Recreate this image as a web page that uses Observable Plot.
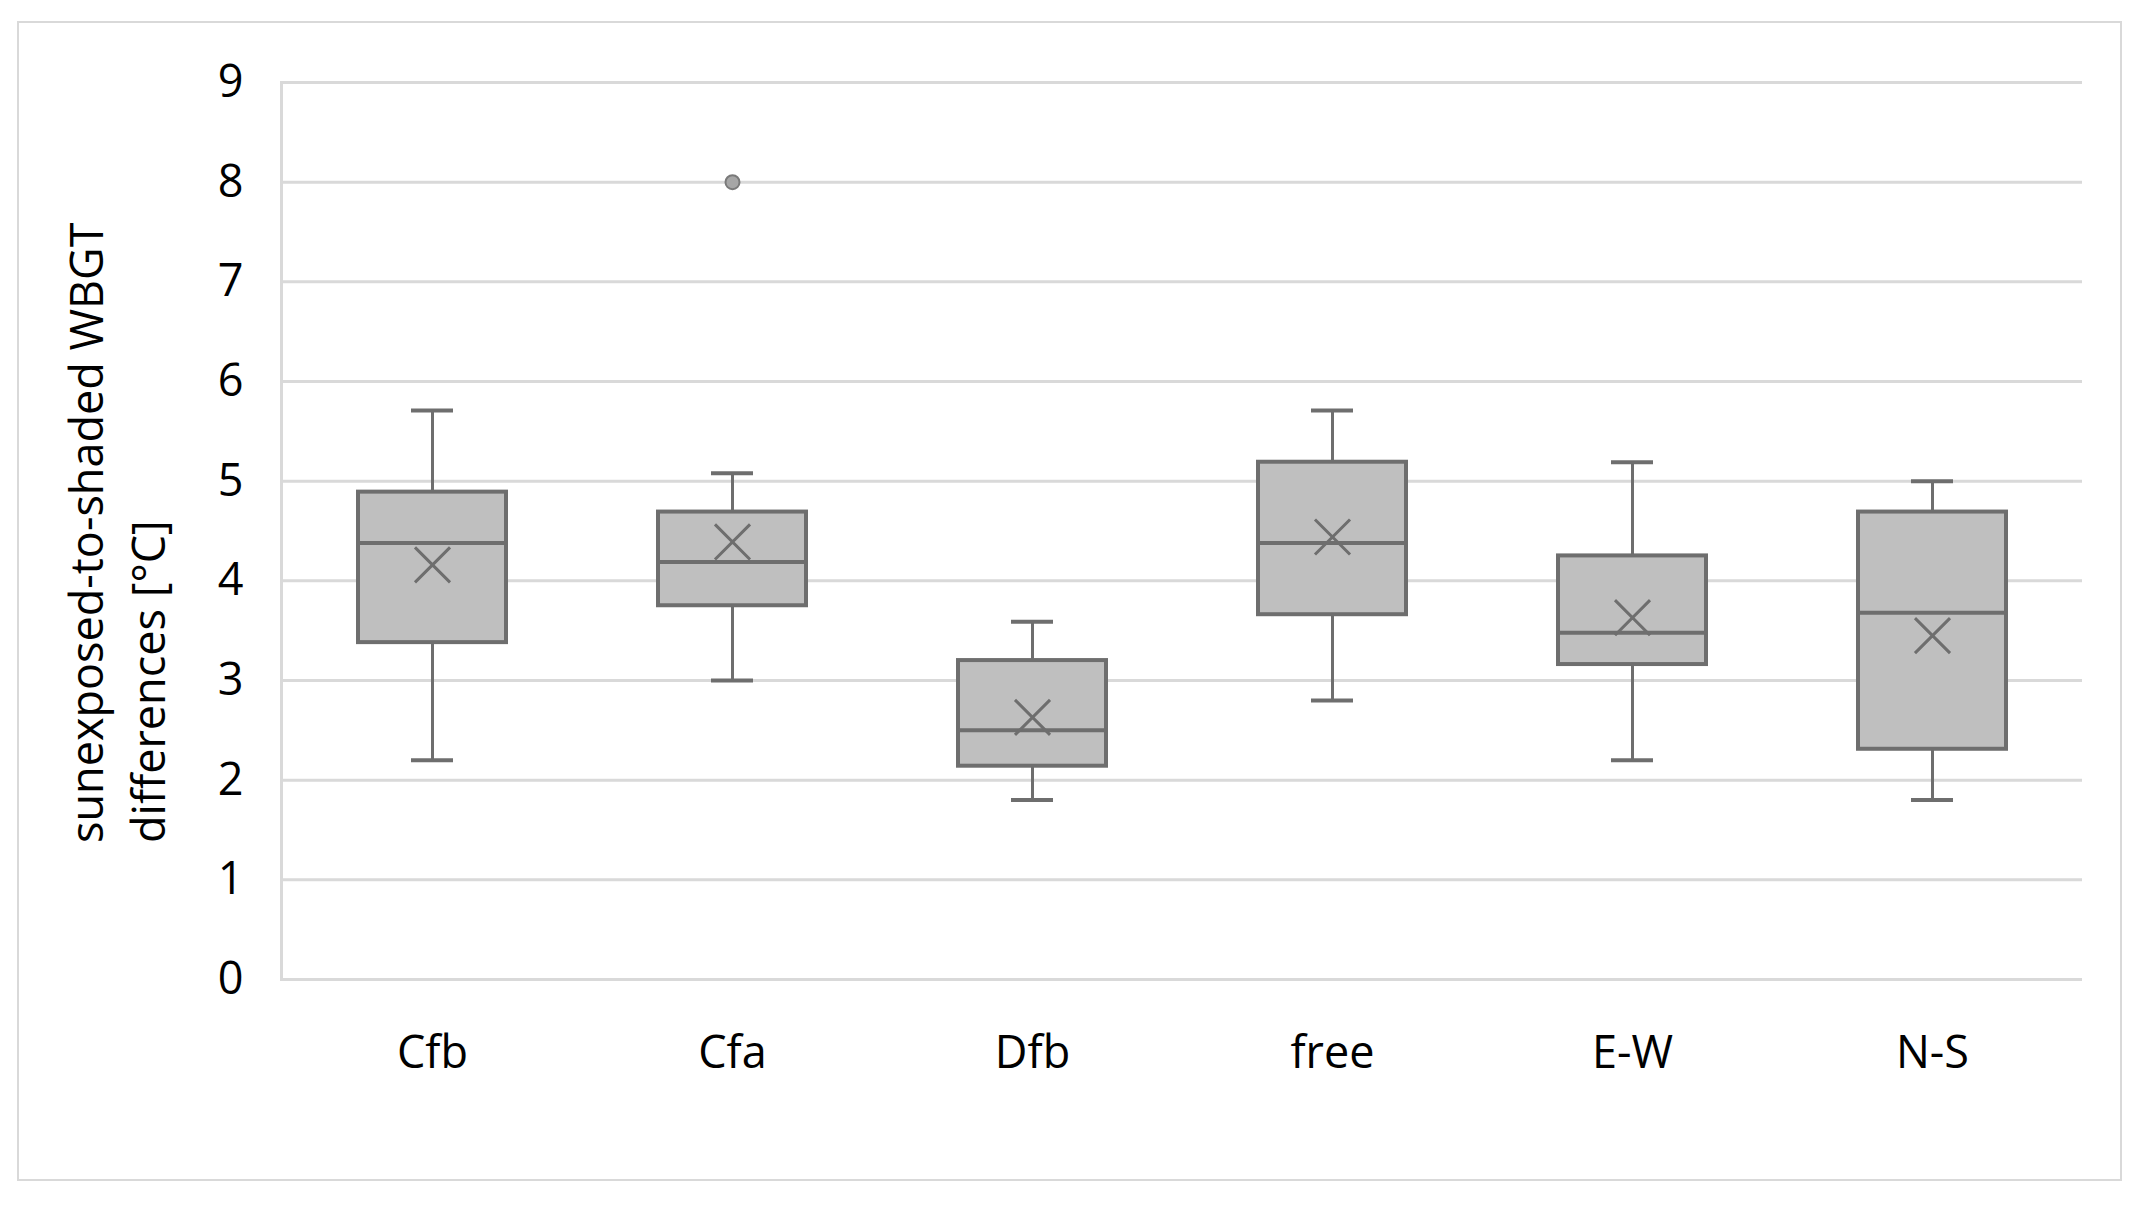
<!DOCTYPE html>
<html><head><meta charset="utf-8">
<script src="https://cdn.jsdelivr.net/npm/d3@7"></script>
<script src="https://cdn.jsdelivr.net/npm/@observablehq/plot@0.6"></script>
<style>
body{margin:0;background:#fff;}
#wrap{position:relative;width:2142px;height:1205px;overflow:hidden;}
#border{position:absolute;left:17px;top:21px;width:2105px;height:1160px;border:2px solid #d9d9d9;box-sizing:border-box;}
#chart{position:absolute;left:0;top:0;}
</style></head><body>
<div id="wrap"><div id="border"></div><div id="chart"></div></div>
<script>
const categories = ["Cfb", "Cfa", "Dfb", "free", "E-W", "N-S"];
const whiskerLow = [2.2, 3.0, 1.8, 2.8, 2.2, 1.8];
const q1 = [3.38, 3.75, 2.14, 3.66, 3.16, 2.31];
const median = [4.38, 4.19, 2.5, 4.38, 3.48, 3.68];
const q3 = [4.89, 4.69, 3.2, 5.19, 4.25, 4.69];
const whiskerHigh = [5.71, 5.08, 3.59, 5.71, 5.19, 5.0];
const mean = [4.16, 4.39, 2.63, 4.44, 3.63, 3.45];
const outlierCategory = ["Cfa"];
const outlierValue = [8.0];
const yTicks = [0, 1, 2, 3, 4, 5, 6, 7, 8, 9];
const yTitle = "sunexposed-to-shaded WBGT\ndifferences [°C]";

const rows = categories.map((c, i) => ({cat: c, lo: whiskerLow[i], q1: q1[i], med: median[i], q3: q3[i], hi: whiskerHigh[i], mean: mean[i]}));
const outliers = outlierCategory.map((c, i) => ({cat: c, v: outlierValue[i]}));

const stroke = "#6e6e6e";
const boxInset = 76, capInset = 129;
const fs = 45;

const chart = Plot.plot({
  width: 2142, height: 1205,
  marginLeft: 281, marginRight: 60, marginTop: 82, marginBottom: 226,
  style: {fontFamily: "'Open Sans', sans-serif", fontSize: fs + "px", color: "#000", background: "transparent"},
  x: {domain: categories, padding: 0, label: null},
  y: {domain: [0, 9], label: null},
  marks: [
    Plot.gridY(yTicks, {stroke: "#d9d9d9", strokeOpacity: 1, strokeWidth: 3}),
    Plot.frame({anchor: "left", stroke: "#d9d9d9", strokeOpacity: 1, strokeWidth: 3}),
    Plot.axisY(yTicks, {tickSize: 0, tickPadding: 38, fontSize: fs, fill: "#000", tickFormat: d3.format("d")}),
    Plot.axisX({tickSize: 0, tickPadding: 57, fontSize: fs, fill: "#000"}),
    Plot.ruleX(rows, {x: "cat", y1: "lo", y2: "q1", stroke, strokeWidth: 3}),
    Plot.ruleX(rows, {x: "cat", y1: "q3", y2: "hi", stroke, strokeWidth: 3}),
    Plot.tickY(rows, {x: "cat", y: "lo", stroke, strokeWidth: 4, insetLeft: capInset, insetRight: capInset}),
    Plot.tickY(rows, {x: "cat", y: "hi", stroke, strokeWidth: 4, insetLeft: capInset, insetRight: capInset}),
    Plot.barY(rows, {x: "cat", y1: "q1", y2: "q3", fill: "#bfbfbf", stroke, strokeWidth: 4, insetLeft: boxInset, insetRight: boxInset}),
    Plot.tickY(rows, {x: "cat", y: "med", stroke, strokeWidth: 4, insetLeft: boxInset, insetRight: boxInset}),
    Plot.dot(rows, {x: "cat", y: "mean", symbol: "times", r: 16, stroke, strokeWidth: 3}),
    Plot.dot(outliers, {x: "cat", y: "v", r: 7, fill: "#a6a6a6", stroke: "#7a7a7a", strokeWidth: 2}),
    Plot.text([yTitle], {frameAnchor: "left", rotate: -90, dx: -167, dy: 312, textAnchor: "start", lineAnchor: "middle", lineHeight: 1.38, fontSize: fs, fill: "#000"})
  ]
});
document.getElementById("chart").appendChild(chart);
</script>
</body></html>
